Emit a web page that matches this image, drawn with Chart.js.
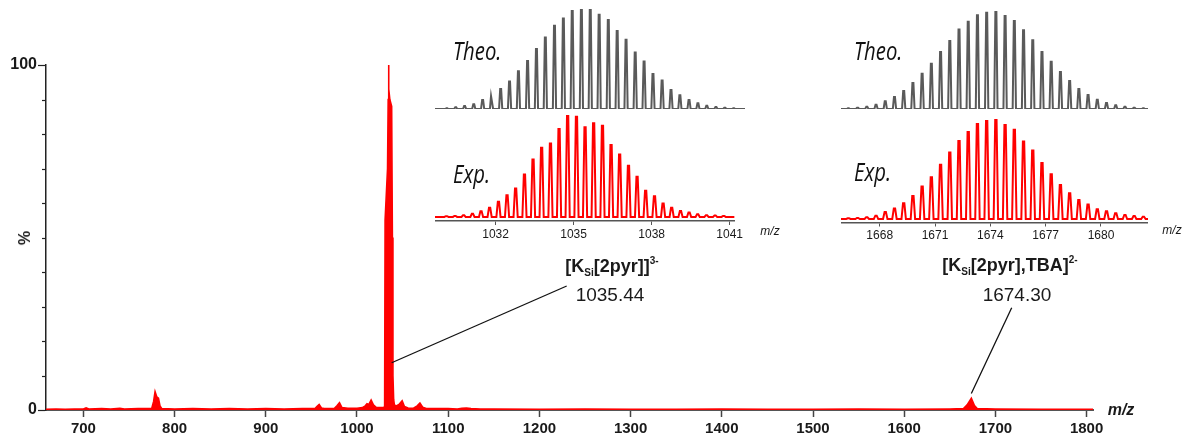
<!DOCTYPE html>
<html>
<head>
<meta charset="utf-8">
<script src="https://cdn.jsdelivr.net/npm/chart.js@4.4.0/dist/chart.umd.min.js"></script>
<style>
body{margin:0;background:#fff;}
#wrap{position:relative;width:1192px;height:441px;overflow:hidden;font-family:"Liberation Sans",Arial,sans-serif;}
canvas{position:absolute;}
.t{position:absolute;white-space:nowrap;color:#1a1a1a;transform:translate(-50%,-50%);}
.it{position:absolute;white-space:nowrap;color:#111;font-family:"Open Sans",sans-serif;font-style:italic;font-size:26px;transform-origin:0 50%;transform:translateY(-50%) scaleX(0.78);}
.ttl{font-weight:bold;font-size:18px;}
.ttl .sb{font-size:10px;vertical-align:-4px;}
.ttl .sp{font-size:10px;vertical-align:8px;}
.num{font-size:19px;}
</style>
</head>
<body>
<div id="wrap">
  <canvas id="main" width="1192" height="441" style="left:0;top:0"></canvas>
  <canvas id="theo1" width="310" height="120" style="left:435px;top:0"></canvas>
  <canvas id="exp1" width="310" height="135" style="left:435px;top:110px"></canvas>
  <canvas id="theo2" width="307" height="120" style="left:841px;top:0"></canvas>
  <canvas id="exp2" width="307" height="135" style="left:841px;top:110px"></canvas>

  <div class="it" style="left:453px;top:50px">Theo.</div>
  <div class="it" style="left:453px;top:173px">Exp.</div>
  <div class="it" style="left:854px;top:50px">Theo.</div>
  <div class="it" style="left:854px;top:171px">Exp.</div>

  <div class="t" style="left:770px;top:231px;font-size:12px;font-style:italic">m/z</div>
  <div class="t" style="left:1172px;top:230px;font-size:12px;font-style:italic">m/z</div>

  <div class="t ttl" style="left:612px;top:266px">[K<span class="sb">Si</span>[2pyr]]<span class="sp">3-</span></div>
  <div class="t num" style="left:610px;top:295px">1035.44</div>
  <div class="t ttl" style="left:1010px;top:265px">[K<span class="sb">Si</span>[2pyr],TBA]<span class="sp">2-</span></div>
  <div class="t num" style="left:1017px;top:295px">1674.30</div>

  <div class="t" style="left:25px;top:238px;font-weight:bold;font-size:16px;transform:translate(-50%,-50%) rotate(-90deg)">%</div>
  <div class="t" style="left:1121px;top:410px;font-weight:bold;font-style:italic;font-size:16px">m/z</div>
</div>
<script>
// full scan
const mainMz  = [659, 670, 680, 690, 700, 703, 706, 720, 730, 740, 745, 760, 770, 775, 777, 778.6, 780.5, 782.3, 784, 786,
                 800, 820, 840, 860, 880, 900, 920, 940, 954, 956, 958.5, 961, 964, 975, 978, 980.8, 983.5, 990, 1000,
                 1006, 1009, 1011, 1013, 1015.5, 1018, 1021, 1025, 1029, 1030.3, 1030.8, 1033.5, 1034.2, 1034.6, 1035,
                 1036, 1038, 1038.8, 1039.4, 1040.2, 1041, 1043, 1046, 1049.5, 1052, 1056, 1062, 1066, 1069, 1072, 1076,
                 1090, 1100, 1110, 1115, 1120, 1125, 1135, 1150, 1200, 1250, 1300, 1350, 1400, 1450, 1500, 1550, 1600,
                 1650, 1665, 1669, 1673.6, 1677, 1680, 1700, 1750, 1807];
const mainInt = [0.2, 0.3, 0.2, 0.3, 0.3, 0.6, 0.3, 0.4, 0.3, 0.5, 0.3, 0.4, 0.4, 0.5, 2.5, 5.3, 3.8, 3.4, 1.2, 0.4,
                 0.3, 0.4, 0.3, 0.4, 0.3, 0.4, 0.3, 0.4, 0.4, 1.0, 1.6, 0.6, 0.4, 0.4, 1.2, 2.1, 0.7, 0.5, 0.5,
                 0.7, 1.2, 1.8, 1.6, 2.9, 1.5, 0.8, 0.7, 0.7, 1, 55, 70, 90, 100, 93,
                 90, 88, 50, 10, 3, 1.5, 1.2, 1.6, 2.7, 1.0, 0.6, 0.5, 1.2, 2.0, 0.8, 0.4,
                 0.4, 0.4, 0.3, 0.5, 0.6, 0.4, 0.3, 0.3, 0.2, 0.3, 0.2, 0.2, 0.3, 0.2, 0.2, 0.3, 0.2,
                 0.3, 0.4, 1.5, 3.4, 1.3, 0.4, 0.3, 0.2, 0.2];
const mainTicksX = [700, 800, 900, 1000, 1100, 1200, 1300, 1400, 1500, 1600, 1700, 1800];
const mainLabelsY = [0, 100];
const leaderAnchors = [[1038, 13.7], [1673.6, 4.8]];

// isotope pattern 1 (3-)
const iso1Mz = [1030.11, 1030.44, 1030.77, 1031.11, 1031.44, 1031.77, 1032.11, 1032.44, 1032.77, 1033.11, 1033.44,
                1033.77, 1034.11, 1034.44, 1034.77, 1035.11, 1035.44, 1035.77, 1036.11, 1036.44, 1036.77, 1037.11,
                1037.44, 1037.77, 1038.11, 1038.44, 1038.77, 1039.11, 1039.44, 1039.77, 1040.11, 1040.44, 1040.77];
const theo1 = [0.7, 1.7, 3, 4.7, 9, 13, 20, 27.4, 37.8, 48, 60, 71.6, 83.3, 90.6, 98, 99, 100, 94.3, 89, 77.9, 69.2,
               56.5, 47.5, 35, 28.4, 19, 13.7, 9, 5.7, 3.3, 2, 1.3, 0.7];
const exp1  = [0.7, 1, 1.6, 3, 5.6, 8.9, 14.8, 21.3, 27.9, 41.6, 56.4, 67.9, 72.1, 86.2, 100, 98.4, 87.9, 91.8, 89.5,
               70.5, 61.3, 50.2, 39.3, 25.6, 20.3, 13.1, 8.9, 5.9, 4.3, 2.6, 1.6, 1.3, 1];

// isotope pattern 2 (2-)
const iso2Mz = [1666.3, 1666.8, 1667.3, 1667.8, 1668.3, 1668.8, 1669.3, 1669.8, 1670.3, 1670.8, 1671.3, 1671.8,
                1672.3, 1672.8, 1673.3, 1673.8, 1674.3, 1674.8, 1675.3, 1675.8, 1676.3, 1676.8, 1677.3, 1677.8,
                1678.3, 1678.8, 1679.3, 1679.8, 1680.3, 1680.8, 1681.3, 1681.8, 1682.3];
const theo2 = [0.7, 1.4, 2.4, 4.4, 7.8, 12.2, 18.4, 26.5, 36, 46.3, 58.2, 69.4, 81, 89.1, 95.6, 98.3, 100, 94.9,
               89.8, 80.3, 70.1, 58.2, 48.3, 37.8, 28.6, 20.4, 14.3, 9.5, 6.1, 3.7, 2.4, 1.4, 0.7];
const exp2  = [0.7, 1, 1.7, 3.3, 7, 10.4, 15.7, 23.1, 32.4, 41.8, 54.2, 66.6, 77.9, 86.9, 95, 98, 100, 94, 89.3,
               77.6, 68.6, 55.9, 44.8, 34.1, 25.8, 19.1, 14.4, 9.7, 7.7, 5.7, 4, 3, 2.3];

const range1 = [1029.67, 1041.19];
const range2 = [1665.9, 1682.55];

Chart.defaults.font.family = '"Liberation Sans", Arial, sans-serif';
Chart.defaults.color = '#1a1a1a';

// stick list -> thin profile peaks for the line
function profile(mz, ints, w, lo, hi) {
  const pts = [{x: lo, y: 0}];
  mz.forEach((m, i) => {
    pts.push({x: m - w, y: 0}, {x: m - w * 0.3, y: ints[i]}, {x: m + w * 0.3, y: ints[i]}, {x: m + w, y: 0});
  });
  pts.push({x: hi, y: 0});
  return pts;
}

const ownDraw = {
  id: 'ownDraw',
  afterDraw(chart) {
    const ctx = chart.ctx, xs = chart.scales.x, ys = chart.scales.y;
    ctx.save();
    // short minor ticks on the y axis
    ctx.strokeStyle = '#222';
    ctx.lineWidth = 1.2;
    ys.ticks.forEach(t => {
      if (mainLabelsY.includes(t.value)) return;
      const py = Math.round(ys.getPixelForValue(t.value)) + 0.5;
      ctx.beginPath();
      ctx.moveTo(xs.left - 4, py);
      ctx.lineTo(xs.left, py);
      ctx.stroke();
    });
    // leader lines
    ctx.strokeStyle = '#111';
    ctx.lineWidth = 1.3;
    const ends = [[566.7, 286], [1011.7, 307.7]];
    leaderAnchors.forEach((a, i) => {
      ctx.beginPath();
      ctx.moveTo(xs.getPixelForValue(a[0]), ys.getPixelForValue(a[1]));
      ctx.lineTo(ends[i][0], ends[i][1]);
      ctx.stroke();
    });
    ctx.restore();
  }
};

new Chart('main', {
  type: 'line',
  data: {
    datasets: [{
      data: mainMz.map((m, i) => ({x: m, y: mainInt[i]})),
      borderColor: '#ff0000',
      backgroundColor: '#ff0000',
      borderWidth: 1.6,
      fill: 'origin',
      pointRadius: 0,
      tension: 0
    }]
  },
  options: {
    responsive: false,
    animation: false,
    devicePixelRatio: 1,
    layout: {padding: {left: 0, right: 99, top: 65, bottom: 0}},
    plugins: {legend: {display: false}, tooltip: {enabled: false}},
    scales: {
      x: {
        type: 'linear', min: 659, max: 1807,
        afterFit: s => { s.height = 31; },
        afterBuildTicks: s => { s.ticks = mainTicksX.map(v => ({value: v})); },
        border: {color: '#555', width: 2},
        grid: {drawOnChartArea: false, tickLength: 7, tickColor: '#444', tickWidth: 1.5},
        ticks: {font: {size: 15, weight: 'bold'}, padding: 3, maxRotation: 0, color: '#1a1a1a',
                callback: v => String(v)}
      },
      y: {
        min: 0, max: 100,
        afterFit: s => { s.width = 46; },
        border: {color: '#222', width: 1.5},
        grid: {
          drawOnChartArea: false, tickLength: 8, tickWidth: 1.2,
          tickColor: c => (c.tick && mainLabelsY.includes(c.tick.value)) ? '#222' : 'rgba(0,0,0,0)'
        },
        ticks: {
          stepSize: 10, padding: 1, font: {size: 16, weight: 'bold'}, color: '#1a1a1a',
          callback: v => mainLabelsY.includes(v) ? String(v) : ''
        }
      }
    }
  },
  plugins: [ownDraw]
});

function theoChart(id, mz, ints, range, w, padTop, padBottom) {
  new Chart(id, {
    type: 'line',
    data: {datasets: [{
      data: profile(mz, ints, w, range[0], range[1]),
      borderColor: '#5a5a5a', borderWidth: 2, pointRadius: 0, tension: 0, fill: false
    }]},
    options: {
      responsive: false, animation: false, devicePixelRatio: 1,
      layout: {padding: {left: 0, right: 0, top: padTop, bottom: padBottom}},
      plugins: {legend: {display: false}, tooltip: {enabled: false}},
      scales: {
        x: {type: 'linear', min: range[0], max: range[1], display: false},
        y: {min: 0, max: 100, display: false}
      }
    }
  });
}

function expChart(id, mz, ints, range, w, padTop, yMin, axisH) {
  new Chart(id, {
    type: 'line',
    data: {datasets: [{
      data: profile(mz, ints, w, range[0], range[1]),
      borderColor: '#ff0000', borderWidth: 2, pointRadius: 0, tension: 0, fill: false
    }]},
    options: {
      responsive: false, animation: false, devicePixelRatio: 1,
      layout: {padding: {left: 0, right: 0, top: padTop, bottom: 0}},
      plugins: {legend: {display: false}, tooltip: {enabled: false}},
      scales: {
        x: {
          type: 'linear', min: range[0], max: range[1],
          afterFit: s => { s.height = axisH; },
          border: {color: '#555', width: 1.5},
          grid: {drawOnChartArea: false, tickLength: 4, tickColor: '#555'},
          ticks: {stepSize: 3, includeBounds: false, padding: 2, maxRotation: 0,
                  font: {size: 12}, color: '#1a1a1a', callback: v => String(v)}
        },
        y: {min: yMin, max: 100, display: false}
      }
    }
  });
}

theoChart('theo1', iso1Mz, theo1, range1, 0.06, 9, 11);
expChart('exp1', iso1Mz, exp1, range1, 0.08, 5, -4, 24);
theoChart('theo2', iso2Mz, theo2, range2, 0.09, 11, 11);
expChart('exp2', iso2Mz, exp2, range2, 0.12, 9, -3.5, 22.5);
</script>
</body>
</html>
